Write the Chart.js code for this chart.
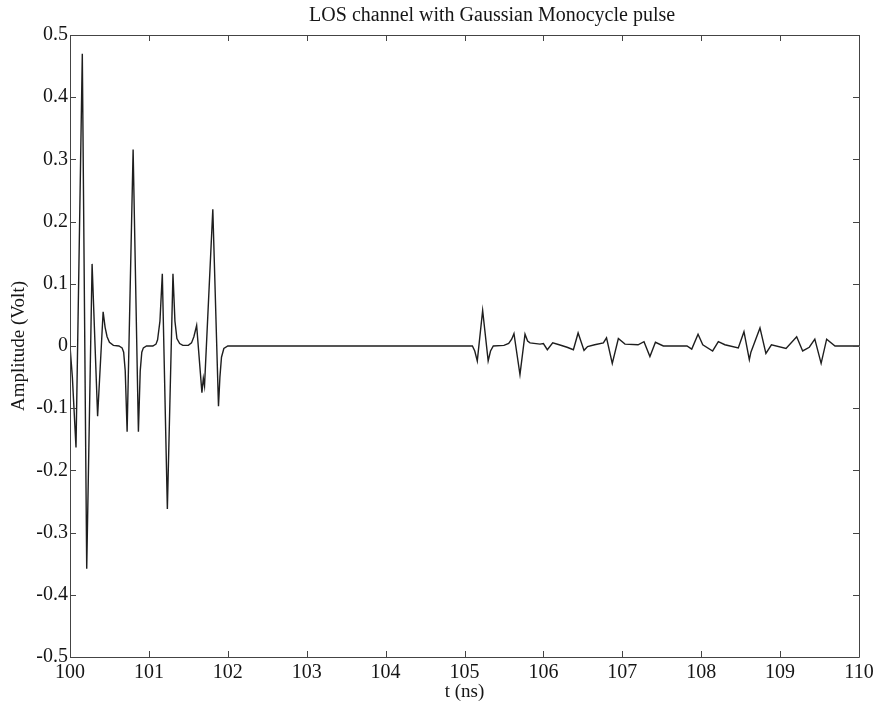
<!DOCTYPE html>
<html>
<head>
<meta charset="utf-8">
<title>LOS channel with Gaussian Monocycle pulse</title>
<script src="https://cdn.jsdelivr.net/npm/chart.js@4.4.1/dist/chart.umd.min.js"></script>
<style>
  html, body { margin: 0; padding: 0; background: #ffffff; }
  #wrap { width: 883px; height: 712px; }
</style>
</head>
<body>
<div id="wrap"><canvas id="c" width="883" height="712"></canvas></div>
<script>
// Received waveform: time (ns) and amplitude (V)
const timeNs = [
  100.000, 100.030, 100.076, 100.156, 100.212, 100.280, 100.350, 100.420, 100.445, 100.470,
  100.500, 100.550, 100.620, 100.660, 100.680, 100.700, 100.724, 100.800, 100.867, 100.890,
  100.910, 100.930, 100.970, 101.050, 101.090, 101.110, 101.140, 101.170, 101.234, 101.305,
  101.330, 101.355, 101.390, 101.430, 101.500, 101.540, 101.570, 101.605, 101.672, 101.690,
  101.705, 101.810, 101.882, 101.900, 101.920, 101.950, 102.000,
  105.100, 105.130, 105.162, 105.230, 105.300, 105.330, 105.365, 105.500, 105.560, 105.598,
  105.627, 105.703, 105.767, 105.800, 105.830, 105.957, 106.000, 106.050, 106.118, 106.200,
  106.300, 106.380, 106.440, 106.515, 106.560, 106.650, 106.760, 106.800, 106.873, 106.950,
  107.034, 107.200, 107.275, 107.350, 107.420, 107.520, 107.820, 107.880, 107.960, 108.020,
  108.145, 108.217, 108.300, 108.470, 108.542, 108.610, 108.630, 108.745, 108.820, 108.890,
  109.075, 109.210, 109.286, 109.370, 109.440, 109.520, 109.590, 109.696, 110.000
];
const amplitudeV = [
  0.000, -0.050, -0.163, 0.470, -0.358, 0.132, -0.113, 0.055, 0.030, 0.015,
  0.006, 0.001, 0.000, -0.003, -0.010, -0.040, -0.138, 0.316, -0.138, -0.040,
  -0.010, -0.003, 0.000, 0.000, 0.003, 0.010, 0.040, 0.116, -0.262, 0.116,
  0.040, 0.012, 0.004, 0.001, 0.001, 0.005, 0.015, 0.033, -0.075, -0.052,
  -0.064, 0.220, -0.097, -0.050, -0.018, -0.004, 0.000,
  0.000, -0.008, -0.024, 0.057, -0.024, -0.008, 0.000, 0.001, 0.004, 0.011,
  0.020, -0.046, 0.019, 0.008, 0.005, 0.003, 0.004, -0.006, 0.005, 0.002,
  -0.002, -0.006, 0.021, -0.007, -0.001, 0.002, 0.005, 0.013, -0.028, 0.012,
  0.003, 0.002, 0.007, -0.017, 0.006, 0.000, 0.000, -0.005, 0.019, 0.002,
  -0.008, 0.007, 0.002, -0.003, 0.023, -0.022, -0.010, 0.029, -0.012, 0.002,
  -0.004, 0.015, -0.008, -0.002, 0.011, -0.028, 0.011, 0.000, 0.000
];

// Axis tick values and their printed labels
const xTickValues = [100, 101, 102, 103, 104, 105, 106, 107, 108, 109, 110];
const xTickLabels = ['100', '101', '102', '103', '104', '105', '106', '107', '108', '109', '110'];
const yTickValues = [-0.5, -0.4, -0.3, -0.2, -0.1, 0, 0.1, 0.2, 0.3, 0.4, 0.5];
const yTickLabels = ['-0.5', '-0.4', '-0.3', '-0.2', '-0.1', '0', '0.1', '0.2', '0.3', '0.4', '0.5'];

const chartTitle = 'LOS channel with Gaussian Monocycle pulse';

const points = timeNs.map((t, i) => ({ x: t, y: amplitudeV[i] }));

const serif = "'Liberation Serif', 'Times New Roman', serif";
const textColor = '#151515';

function labelFor(values, labels, v) {
  for (let i = 0; i < values.length; i++) {
    if (Math.abs(values[i] - v) < 1e-6) return labels[i];
  }
  return '';
}

// Axes box with short inward tick marks on all four sides
const boxTicks = {
  id: 'boxTicks',
  afterDatasetsDraw(chart) {
    const { ctx, chartArea: a, scales } = chart;
    const len = 6;
    ctx.save();
    ctx.strokeStyle = '#444';
    ctx.lineWidth = 1;
    ctx.beginPath();
    ctx.rect(Math.round(a.left) + 0.5, Math.round(a.top) + 0.5,
             Math.round(a.right - a.left), Math.round(a.bottom - a.top));
    xTickValues.forEach(v => {
      const px = Math.round(scales.x.getPixelForValue(v)) + 0.5;
      ctx.moveTo(px, a.bottom); ctx.lineTo(px, a.bottom - len);
      ctx.moveTo(px, a.top); ctx.lineTo(px, a.top + len);
    });
    yTickValues.forEach(v => {
      const py = Math.round(scales.y.getPixelForValue(v)) + 0.5;
      ctx.moveTo(a.left, py); ctx.lineTo(a.left + len, py);
      ctx.moveTo(a.right, py); ctx.lineTo(a.right - len, py);
    });
    ctx.stroke();
    ctx.restore();
  }
};

// Heading above the axes, centred over t = 105.35 ns
const heading = {
  id: 'heading',
  afterDraw(chart) {
    const { ctx, scales } = chart;
    ctx.save();
    ctx.fillStyle = textColor;
    ctx.font = '20px ' + serif;
    ctx.textAlign = 'center';
    ctx.textBaseline = 'middle';
    ctx.fillText(chartTitle, scales.x.getPixelForValue(105.35), 16);
    ctx.restore();
  }
};

new Chart(document.getElementById('c'), {
  type: 'line',
  data: {
    datasets: [{
      data: points,
      borderColor: '#1e1e1e',
      borderWidth: 1.4,
      pointRadius: 0,
      tension: 0,
      fill: false
    }]
  },
  options: {
    responsive: false,
    animation: false,
    layout: { padding: { left: 0, right: 24, top: 35, bottom: 0 } },
    plugins: {
      legend: { display: false },
      tooltip: { enabled: false },
      title: { display: false }
    },
    scales: {
      x: {
        type: 'linear',
        min: 100,
        max: 110,
        afterBuildTicks(scale) { scale.ticks = xTickValues.map(v => ({ value: v })); },
        afterFit(scale) { scale.height = 55; },
        ticks: {
          color: textColor,
          font: { family: serif, size: 20 },
          padding: 4,
          maxRotation: 0,
          autoSkip: false,
          callback: v => labelFor(xTickValues, xTickLabels, v)
        },
        grid: { display: false, drawTicks: false },
        border: { display: false },
        title: {
          display: true,
          text: 't (ns)',
          color: textColor,
          font: { family: serif, size: 19 },
          padding: { top: 0, bottom: 9 }
        }
      },
      y: {
        type: 'linear',
        min: -0.5,
        max: 0.5,
        afterBuildTicks(scale) { scale.ticks = yTickValues.map(v => ({ value: v })); },
        afterFit(scale) { scale.width = 70; },
        ticks: {
          color: textColor,
          font: { family: serif, size: 20 },
          padding: 2,
          autoSkip: false,
          callback: v => labelFor(yTickValues, yTickLabels, v)
        },
        grid: { display: false, drawTicks: false },
        border: { display: false },
        title: {
          display: true,
          text: 'Amplitude (Volt)',
          color: textColor,
          font: { family: serif, size: 19 },
          padding: { top: 8, bottom: 0 }
        }
      }
    }
  },
  plugins: [boxTicks, heading]
});
</script>
</body>
</html>
